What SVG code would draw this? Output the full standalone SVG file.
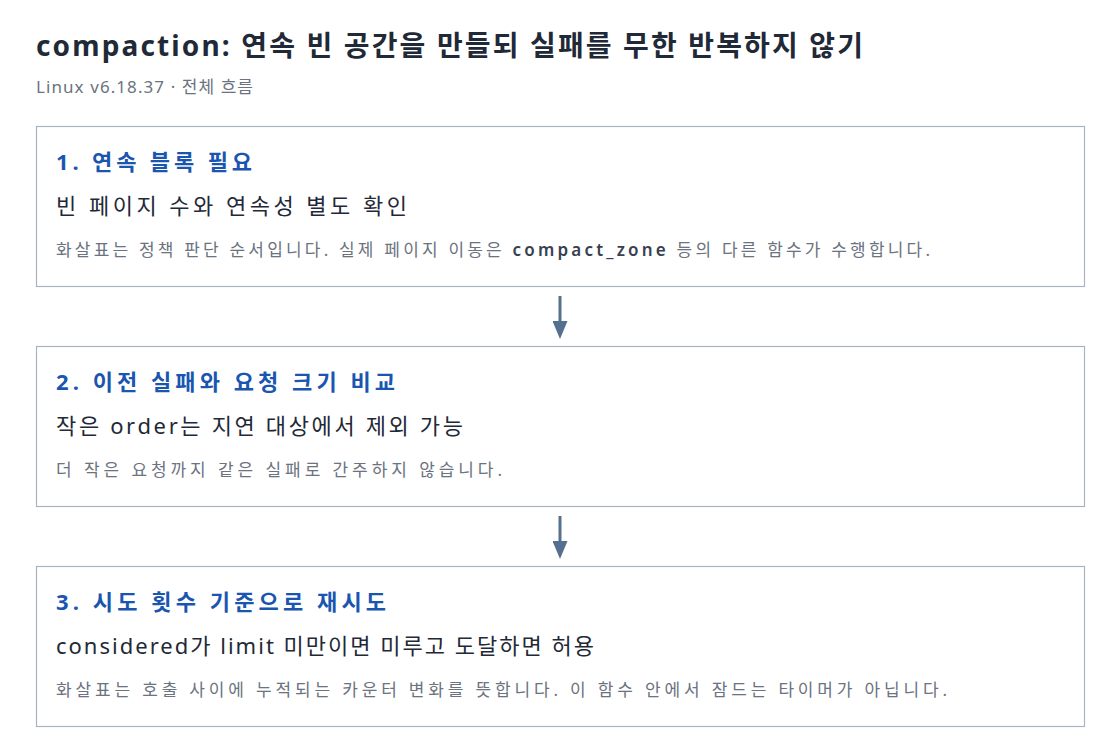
<svg xmlns="http://www.w3.org/2000/svg" width="1120" height="754" viewBox="0 0 1120 754">
<style>
text{font-family:"Noto Sans","Noto Sans CJK KR",sans-serif}
.title{font-size:28px;font-weight:700;fill:#1f2937}
.sub{font-size:17px;fill:#6b7280}
.box{fill:#ffffff;stroke:#a9b4c2;stroke-width:1.2}
.h{font-size:22px;font-weight:700;fill:#1a56b0}
.b{font-size:22px;fill:#1f2937}
.n{font-size:17px;fill:#6b7280}
.code{font-weight:600;fill:#374151}
.conn{stroke:#55708f;stroke-width:3;fill:none}
</style>
<defs>
<marker id="ah" markerWidth="6" markerHeight="5" refX="0" refY="2.5" orient="auto" markerUnits="strokeWidth">
<path d="M0,0 L6,2.5 L0,5 Z" fill="#55708f"/>
</marker>
</defs>
<rect width="1120" height="754" fill="#ffffff"/>
<text class="title" x="36" y="56" textLength="827" lengthAdjust="spacing">compaction: 연속 빈 공간을 만들되 실패를 무한 반복하지 않기</text>
<text class="sub" x="36" y="93" textLength="217" lengthAdjust="spacing">Linux v6.18.37 · 전체 흐름</text>
<g id="connectors">
<line class="conn" x1="560" y1="296" x2="560" y2="321" marker-end="url(#ah)"/>
<line class="conn" x1="560" y1="516" x2="560" y2="541" marker-end="url(#ah)"/>
</g>
<g id="step1">
<rect class="box" x="36.5" y="126.5" width="1048" height="160"/>
<text class="h" x="56" y="170" textLength="196" lengthAdjust="spacing">1. 연속 블록 필요</text>
<text class="b" x="56" y="214" textLength="351" lengthAdjust="spacing">빈 페이지 수와 연속성 별도 확인</text>
<text class="n" x="56" y="256" textLength="874" lengthAdjust="spacing">화살표는 정책 판단 순서입니다. 실제 페이지 이동은 <tspan class="code">compact_zone</tspan> 등의 다른 함수가 수행합니다.</text>
</g>
<g id="step2">
<rect class="box" x="36.5" y="346.5" width="1048" height="160"/>
<text class="h" x="56" y="390" textLength="339" lengthAdjust="spacing">2. 이전 실패와 요청 크기 비교</text>
<text class="b" x="56" y="434" textLength="407" lengthAdjust="spacing">작은 order는 지연 대상에서 제외 가능</text>
<text class="n" x="56" y="476" textLength="446" lengthAdjust="spacing">더 작은 요청까지 같은 실패로 간주하지 않습니다.</text>
</g>
<g id="step3">
<rect class="box" x="36.5" y="566.5" width="1048" height="160"/>
<text class="h" x="56" y="610" textLength="330" lengthAdjust="spacing">3. 시도 횟수 기준으로 재시도</text>
<text class="b" x="56" y="654" textLength="538" lengthAdjust="spacing">considered가 limit 미만이면 미루고 도달하면 허용</text>
<text class="n" x="56" y="696" textLength="891" lengthAdjust="spacing">화살표는 호출 사이에 누적되는 카운터 변화를 뜻합니다. 이 함수 안에서 잠드는 타이머가 아닙니다.</text>
</g>
</svg>
